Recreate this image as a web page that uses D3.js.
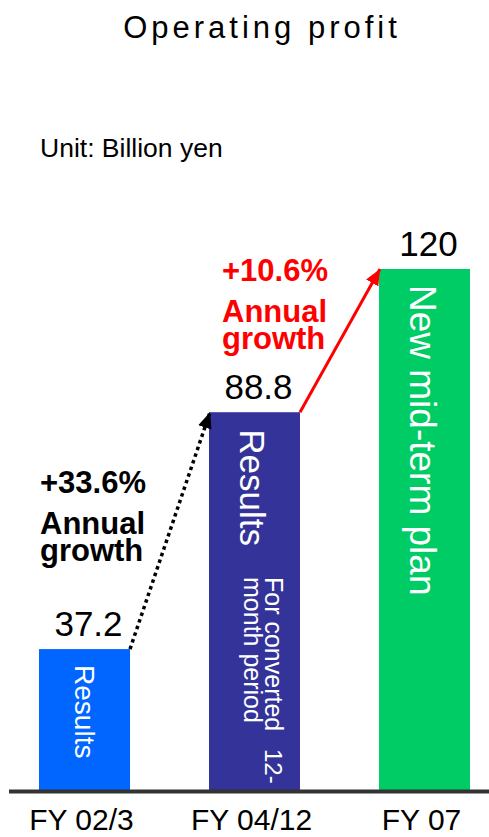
<!DOCTYPE html>
<html>
<head>
<meta charset="utf-8">
<script src="https://cdn.jsdelivr.net/npm/d3@7"></script>
<style>
  html, body { margin: 0; padding: 0; background: #fff; }
  svg { display: block; font-family: "Liberation Sans", Arial, sans-serif; }
</style>
</head>
<body>
<svg id="chart" width="489" height="837"></svg>
<script>
// ---- data ----
const categories = ["FY 02/3", "FY 04/12", "FY 07"];
const values = [37.2, 88.8, 120];
const valueLabels = ["37.2", "88.8", "120"];
const barColors = ["#0066FF", "#333399", "#00CC66"];
const barTitles = ["Results", "Results", "New mid-term plan"];
const growthRates = ["+33.6%", "+10.6%"];
const growthWords = ["Annual", "growth"];
const growthColors = ["#000000", "#FF0000"];
const subNote = ["For converted", "month period", "12-"];
const titleText = "Operating profit";
const unitText = "Unit: Billion yen";

// ---- layout ----
const W = 489, H = 837;
const baseY = 790;
const svg = d3.select("#chart");

const x = d3.scaleBand()
  .domain(categories)
  .range([39, 470])
  .paddingInner(0.4647)
  .paddingOuter(0);

const y = d3.scaleLinear()
  .domain([6.5, 120])
  .range([baseY, 269]);

// title
svg.append("text")
  .attr("x", 262).attr("y", 38)
  .attr("text-anchor", "middle")
  .attr("font-size", 31)
  .attr("letter-spacing", "4px")
  .attr("fill", "#000")
  .text(titleText);

svg.append("text")
  .attr("x", 40).attr("y", 157)
  .attr("font-size", 26.5)
  .attr("fill", "#000")
  .text(unitText);

// bars
const data = categories.map((c, i) => ({ c, v: values[i], i }));
svg.selectAll("rect.bar").data(data).join("rect")
  .attr("class", "bar")
  .attr("x", d => x(d.c))
  .attr("y", d => y(d.v))
  .attr("width", x.bandwidth())
  .attr("height", d => baseY - y(d.v))
  .attr("fill", (d, i) => barColors[i]);

// baseline
svg.append("line")
  .attr("x1", 9).attr("x2", W)
  .attr("y1", baseY + 1.5).attr("y2", baseY + 1.5)
  .attr("stroke", "#333333")
  .attr("stroke-width", 4);

// x axis labels
const axis = d3.axisBottom(x).tickSize(0).tickPadding(19);
const gx = svg.append("g").attr("transform", `translate(0,${baseY})`).call(axis);
gx.select(".domain").remove();
gx.selectAll("text")
  .attr("font-size", 30)
  .attr("font-family", "Liberation Sans, Arial, sans-serif")
  .attr("fill", "#000")
  .attr("dx", "-3");

// value labels
svg.selectAll("text.val").data(data).join("text")
  .attr("class", "val")
  .attr("x", d => x(d.c) + x.bandwidth() / 2 + 4)
  .attr("y", d => y(d.v) - 13)
  .attr("text-anchor", "middle")
  .attr("font-size", 35)
  .attr("fill", "#000")
  .text((d, i) => valueLabels[i]);

// rotated bar titles
const titleStyle = [
  { dx: 36, dy: 16, fs: 28 },
  { dx: 31, dy: 17, fs: 35 },
  { dx: 31, dy: 16, fs: 37 }
];
data.forEach((d, i) => {
  const s = titleStyle[i];
  svg.append("text")
    .attr("transform", `translate(${x(d.c) + s.dx},${y(d.v) + s.dy}) rotate(90)`)
    .attr("font-size", s.fs)
    .attr("fill", "#fff")
    .text(barTitles[i]);
});

// sub note in second bar
const b2 = x(categories[1]);
const subPos = [
  { dx: 56, y: 577 },
  { dx: 35, y: 577 },
  { dx: 56, y: 749 }
];
subNote.forEach((t, i) => {
  svg.append("text")
    .attr("transform", `translate(${b2 + subPos[i].dx},${subPos[i].y}) rotate(90)`)
    .attr("font-size", i === 2 ? 24 : 25)
    .attr("fill", "#fff")
    .text(t);
});

// arrow markers
const defs = svg.append("defs");
growthColors.forEach((col, i) => {
  defs.append("marker")
    .attr("id", "arrow" + i)
    .attr("markerUnits", "userSpaceOnUse")
    .attr("markerWidth", 18).attr("markerHeight", 14)
    .attr("refX", 16).attr("refY", 7)
    .attr("orient", "auto")
    .append("path")
    .attr("d", "M0,0 L16,7 L0,14 Z")
    .attr("fill", col);
});

// growth arrows
for (let i = 0; i < values.length - 1; i++) {
  const x1 = x(categories[i]) + x.bandwidth();
  const y1 = y(values[i]);
  const x2 = x(categories[i + 1]);
  const y2 = y(values[i + 1]);
  svg.append("line")
    .attr("x1", x1).attr("y1", y1)
    .attr("x2", x2 + 1).attr("y2", y2)
    .attr("stroke", growthColors[i])
    .attr("stroke-width", i === 0 ? 3.5 : 3)
    .attr("stroke-dasharray", i === 0 ? "3.5 3.5" : null)
    .attr("marker-end", `url(#arrow${i})`);
}

// growth annotations
const annPos = [
  { x: 40, y: 493 },
  { x: 222, y: 281 }
];
growthRates.forEach((r, i) => {
  const g = svg.append("g").attr("fill", growthColors[i])
    .attr("font-size", 31).attr("font-weight", "bold");
  g.append("text").attr("x", annPos[i].x).attr("y", annPos[i].y).text(r);
  g.append("text").attr("x", annPos[i].x).attr("y", annPos[i].y + 41).text(growthWords[0]);
  g.append("text").attr("x", annPos[i].x).attr("y", annPos[i].y + 68).text(growthWords[1]);
});
</script>
</body>
</html>
